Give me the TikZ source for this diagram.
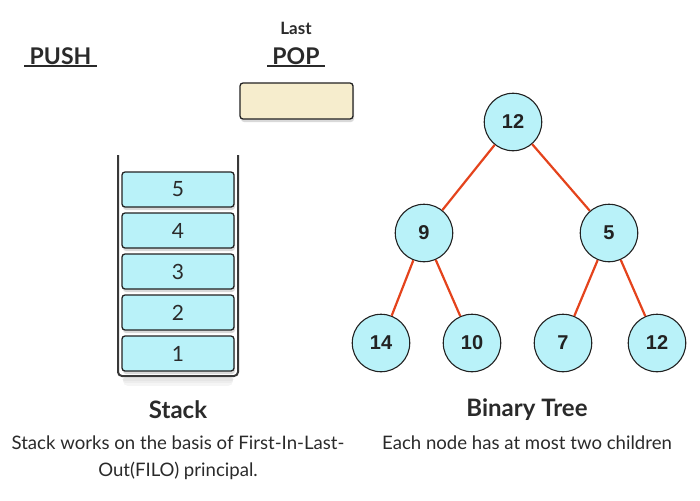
\documentclass[tikz,border=0pt]{standalone}
\usepackage{fontspec}
\setmainfont{Lato}
\newfontfamily\treefont{Liberation Sans}
\usetikzlibrary{shadows}
\definecolor{cyanfill}{HTML}{B9F2F9}
\definecolor{creamfill}{HTML}{F6EDCD}
\definecolor{edgered}{HTML}{E4431C}
\definecolor{ink}{HTML}{222222}
\definecolor{txt}{HTML}{2A2A2A}
\tikzset{
  softshadow/.style={drop shadow={shadow xshift=1pt,shadow yshift=-3pt,opacity=0.15,fill=black}},
  item/.style={draw=ink,line width=1.3pt,rounded corners=3pt,fill=cyanfill,minimum width=112pt,minimum height=35pt,inner sep=0pt,font=\fontsize{21}{25}\selectfont,text=txt,softshadow},
  tnode/.style={circle,draw=ink,line width=1.1pt,fill=cyanfill,minimum size=57.5pt,inner sep=0pt,font=\treefont\bfseries\fontsize{20}{23}\selectfont,text=ink},
  tedge/.style={draw=edgered,line width=2.2pt},
  head/.style={font=\bfseries\fontsize{23}{27}\selectfont,text=txt,inner xsep=5pt,inner ysep=1.2pt},
  captext/.style={font=\bfseries\fontsize{24}{28}\selectfont,text=txt},
  desc/.style={font=\fontsize{18.6}{27}\selectfont,text=txt,align=center},
  groundshade/.style={line cap=round}
}
\begin{document}
\begin{tikzpicture}[x=1pt,y=-1pt]
\useasboundingbox (0,0) rectangle (700,500);
% headings
\node[head] (push) at (60.5,56) {PUSH};
\draw[txt,line width=1.5pt] (push.south west) -- (push.south east);
\node[font=\bfseries\fontsize{17}{20}\selectfont,text=txt] (last) at (296,28) {Last};
\node[head] (pop) at (296,56) {POP};
\draw[txt,line width=1.5pt] (pop.south west) -- (pop.south east);
\node[draw=ink,line width=1.3pt,rounded corners=3pt,fill=creamfill,minimum width=113pt,minimum height=36pt,softshadow] (popbox) at (296.5,101) {};
% stack container
\draw[groundshade,black!4,line width=10pt] (128,381) -- (228,381);
\draw[groundshade,black!7,line width=6pt] (126,380) -- (230,380);
\draw[groundshade,black!10,line width=3pt] (124,379) -- (232,379);
\draw[ink!90,line width=2pt,rounded corners=4pt] (118,155) -- (118,376) -- (238,376) -- (238,155);
\node[item] (s5) at (178,189.5) {5};
\node[item] (s4) at (178,230.5) {4};
\node[item] (s3) at (178,271.5) {3};
\node[item] (s2) at (178,312.5) {2};
\node[item] (s1) at (178,353.5) {1};
% tree
\node[tnode] (t12) at (513,122) {12};
\node[tnode] (t9) at (424,233) {9};
\node[tnode] (t5) at (609,233) {5};
\node[tnode] (t14) at (381,343) {14};
\node[tnode] (t10) at (472,343) {10};
\node[tnode] (t7) at (563,343) {7};
\node[tnode] (t12b) at (657,343) {12};
\draw[tedge] (t12) -- (t9);
\draw[tedge] (t12) -- (t5);
\draw[tedge] (t9) -- (t14);
\draw[tedge] (t9) -- (t10);
\draw[tedge] (t5) -- (t7);
\draw[tedge] (t5) -- (t12b);
% captions
\node[captext] (stackcap) at (178,410) {Stack};
\node[captext] (treecap) at (527,410) {Binary Tree};
\node[desc,anchor=north] (stackdesc) at (178,432) {Stack works on the basis of First-In-Last-\\Out(FILO) principal.};
\node[desc,anchor=north] (treedesc) at (527,432) {Each node has at most two children};
\end{tikzpicture}
\end{document}
